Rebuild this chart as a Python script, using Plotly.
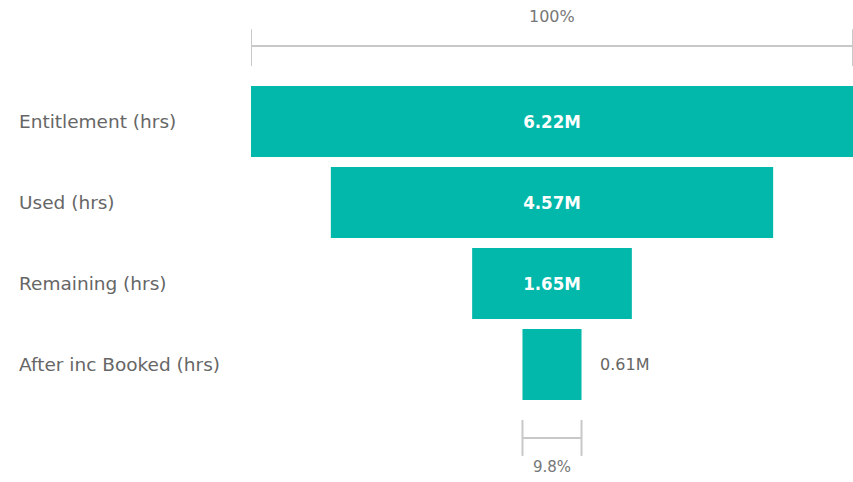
import plotly.graph_objects as go

# Funnel stages and their values (hours)
stages = ["Entitlement (hrs)", "Used (hrs)", "Remaining (hrs)", "After inc Booked (hrs)"]
values = [6.22e6, 4.57e6, 1.65e6, 0.61e6]
value_labels = ["6.22M", "4.57M", "1.65M", "0.61M"]
inside = [True, True, True, False]

TEAL = "#01B8AA"
LABEL_GREY = "#666666"
BRACKET_GREY = "#C8C8C8"
FONT = "DejaVu Sans"
FONT_COND = "DejaVu Sans Condensed"

half = [v / 2 for v in values]
top, last = values[0], values[-1]

fig = go.Figure(
    go.Bar(
        y=stages,
        x=values,
        base=[-h for h in half],
        orientation="h",
        marker=dict(color=TEAL, line=dict(width=0)),
        text=[t if ins else "" for t, ins in zip(value_labels, inside)],
        textposition="inside",
        insidetextanchor="middle",
        insidetextfont=dict(color="white", size=18.5, family=FONT_COND, weight="bold"),
        hoverinfo="skip",
    )
)

# Values that do not fit inside their bar sit to the right of it
for s, v, t, ins in zip(stages, values, value_labels, inside):
    if not ins:
        fig.add_annotation(
            x=v / 2, xref="x", y=s, yref="y", text=t, showarrow=False,
            xanchor="left", xshift=16,
            font=dict(color=LABEL_GREY, size=16, family=FONT),
        )

# Stage names, left aligned in the margin
for s in stages:
    fig.add_annotation(
        x=-0.388, xref="paper", y=s, yref="y",
        text=s, showarrow=False, xanchor="left",
        font=dict(color=LABEL_GREY, size=18.5, family=FONT),
    )

# Width brackets: first stage (100%) above, last stage below
def bracket(x0, x1, y_line, y_tick0, y_tick1):
    line = dict(color=BRACKET_GREY, width=2)
    fig.add_shape(type="line", xref="x", yref="paper", x0=x0, x1=x1, y0=y_line, y1=y_line, line=line)
    for xx in (x0, x1):
        fig.add_shape(type="line", xref="x", yref="paper", x0=xx, x1=xx, y0=y_tick0, y1=y_tick1, line=line)

bracket(-top / 2, top / 2, 1.108, 1.046, 1.160)
bracket(-last / 2, last / 2, -0.102, -0.046, -0.157)

fig.add_annotation(
    x=0, xref="x", y=1.198, yref="paper", yanchor="middle", text=f"{top / top:.0%}",
    showarrow=False, font=dict(color="#777777", size=16, family=FONT),
)
fig.add_annotation(
    x=0, xref="x", y=-0.191, yref="paper", yanchor="middle", text=f"{last / top:.1%}",
    showarrow=False, font=dict(color="#777777", size=15, family=FONT),
)

fig.update_layout(
    width=853, height=482,
    margin=dict(l=251, r=0, t=81, b=77),
    paper_bgcolor="white", plot_bgcolor="white",
    bargap=10 / 81,
    showlegend=False,
    xaxis=dict(range=[-top / 2, top / 2], visible=False, fixedrange=True),
    yaxis=dict(autorange="reversed", showticklabels=False, showgrid=False,
               zeroline=False, fixedrange=True),
)

fig.write_html("out.html")
